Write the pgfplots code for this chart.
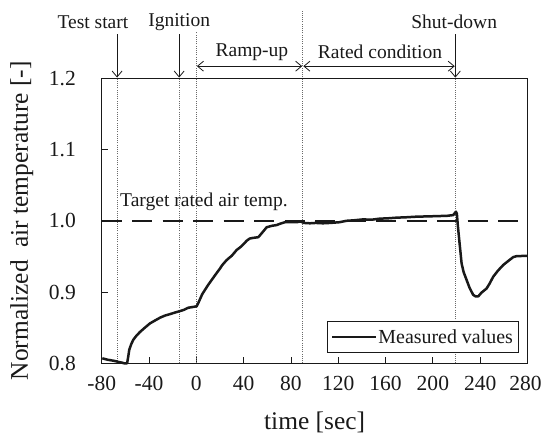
\documentclass[border=0pt]{standalone}
\usepackage{pgfplots}
\pgfplotsset{compat=1.18}
\usepackage{fontspec}
\setmainfont{Liberation Serif}
\usetikzlibrary{arrows.meta}
\definecolor{ink}{RGB}{25,25,25}
\definecolor{dotc}{RGB}{105,105,105}
\newcommand{\annfont}{\fontsize{19.6}{20}\selectfont}
\newcommand{\tickfont}{\fontsize{21.6}{22}\selectfont}
\newcommand{\labfont}{\fontsize{25.5}{26}\selectfont}
\begin{document}
\begin{tikzpicture}
\begin{axis}[
  at={(0,0)}, anchor=south west,
  scale only axis, width=425.8bp, height=285bp,
  xmin=-80, xmax=280, ymin=0.8, ymax=1.2,
  xtick={-80,-40,0,40,80,120,160,200,240,280},
  xticklabels={-80,-40,0,40,80,120,160,200,240,{\hspace*{-4bp}280}},
  ytick={0.8,0.9,1.0,1.1,1.2},
  yticklabels={0.8,0.9,1.0,1.1,1.2},
  tick align=inside, major tick length=6bp,
  xtick pos=bottom, ytick pos=left,
  axis line style={line width=1.3bp, ink},
  tick style={line width=0.8bp, ink},
  xticklabel style={font=\tickfont, inner sep=0pt, anchor=north, yshift=-12.5bp, text=ink},
  yticklabel style={font=\tickfont, inner sep=0pt, anchor=east, xshift=-25.7bp, text=ink},
  xlabel={time [sec]},
  ylabel={Normalized\ \ air temperature\ [-]},
  xlabel style={font=\labfont, at={(axis description cs:0.5,-0.208)}, anchor=center, text=ink},
  ylabel style={font=\labfont, at={(axis description cs:-0.188,0.5)}, anchor=center, text=ink},
  clip=false,
  legend style={at={(axis description cs:0.9784,0.0372)}, anchor=south east,
    draw=ink, line width=0.8bp, fill=white, font=\fontsize{20}{20}\selectfont, text=ink,
    inner xsep=4bp, inner ysep=6.7bp, nodes={inner sep=1bp}},
  legend image code/.code={\path (-5bp,0bp) -- (39bp,0bp); \draw[#1] (0bp,0bp) -- (39bp,0bp);},
]
% reference lines
\addplot[forget plot, dotc, line width=0.8bp, dash pattern=on 1bp off 1.2bp] coordinates {(-67,0.8) (-67,1.2)};
\addplot[forget plot, dotc, line width=0.8bp, dash pattern=on 1bp off 1.2bp] coordinates {(-14.5,0.8) (-14.5,1.2)};
\addplot[forget plot, dotc, line width=0.8bp, dash pattern=on 1bp off 1.2bp] coordinates {(0,0.8) (0,1.265)};
\addplot[forget plot, dotc, line width=0.8bp, dash pattern=on 1bp off 1.2bp] coordinates {(90,0.8) (90,1.295)};
\addplot[forget plot, dotc, line width=0.8bp, dash pattern=on 1bp off 1.2bp] coordinates {(219,0.8) (219,1.2)};
\addplot[forget plot, ink, line width=2.2bp, dash pattern=on 20bp off 10.5bp] coordinates {(-80,1.0) (280,1.0)};
% measured curve
\addplot[ink, line width=2.5bp, line join=round] coordinates {
(-79.5,0.807) (-75,0.805) (-70,0.8036) (-66,0.802) (-63,0.801) (-61,0.8) (-58.5,0.8)
(-57.5,0.81) (-56.7,0.819) (-55,0.827) (-53.3,0.833) (-50.5,0.839) (-47.6,0.844)
(-43.5,0.850) (-39.2,0.856) (-35,0.860) (-30.7,0.864) (-26.5,0.867) (-22.3,0.869)
(-18.5,0.871) (-14.4,0.873) (-10.5,0.875) (-6.8,0.878) (-3,0.879) (0.3,0.880)
(1.5,0.884) (3.1,0.890) (5,0.897) (7.3,0.903) (10,0.910) (13,0.917) (16,0.924)
(20,0.933) (22,0.938) (25.7,0.945) (30,0.951) (34.1,0.959) (38,0.964) (42.6,0.972)
(45,0.975) (48,0.976) (52.4,0.977) (55,0.982) (59.5,0.991) (64,0.993) (67.9,0.994)
(71,0.996) (74.9,0.998) (80,0.998) (84.8,0.998) (88,0.999) (91,0.997) (96,0.9965)
(101,0.997) (107,0.9965) (113,0.997) (121,0.998) (127,1.0) (134,1.0008) (141,1.002)
(148,1.0015) (155,1.003) (162,1.0035) (169.4,1.0044) (178,1.005) (186.3,1.0058)
(196,1.0062) (206,1.0067) (212,1.007) (217.2,1.008) (219.5,1.0128) (220.3,1.01)
(221,0.995) (222.3,0.973) (224.3,0.940) (226,0.928) (228.5,0.917) (231,0.906)
(234.1,0.896) (236,0.894) (238.4,0.894) (241,0.899) (245.4,0.905) (248,0.912)
(251,0.9215) (255,0.930) (259.5,0.938) (264,0.944) (267.9,0.949) (271,0.9505)
(275,0.9506) (280,0.9506)
};
\addlegendentry{Measured values}
% annotations
\draw[ink, line width=0.8bp, -{Straight Barb[length=6bp,width=10bp]}] (axis cs:-67,1.262) -- (axis cs:-67,1.201);
\draw[ink, line width=0.8bp, -{Straight Barb[length=6bp,width=10bp]}] (axis cs:-14.5,1.262) -- (axis cs:-14.5,1.201);
\draw[ink, line width=0.8bp, -{Straight Barb[length=6bp,width=10bp]}] (axis cs:219,1.262) -- (axis cs:219,1.201);
\draw[ink, line width=0.8bp, {Straight Barb[length=6bp,width=10bp]}-{Straight Barb[length=6bp,width=10bp]}] (axis cs:0.5,1.217) -- (axis cs:89.5,1.217);
\draw[ink, line width=0.8bp, {Straight Barb[length=6bp,width=10bp]}-{Straight Barb[length=6bp,width=10bp]}] (axis cs:90.5,1.217) -- (axis cs:218.5,1.217);
\node[font=\annfont, text=ink] at (axis cs:-87.4,1.279) {Test start};
\node[font=\annfont, text=ink] at (axis cs:-14.5,1.279) {Ignition};
\node[font=\annfont, text=ink] at (axis cs:218,1.279) {Shut-down};
\node[font=\annfont, text=ink] at (axis cs:47,1.237) {Ramp-up};
\node[font=\annfont, text=ink] at (axis cs:155.3,1.237) {Rated condition};
\node[font=\annfont, text=ink, anchor=west, inner sep=0pt] at (axis cs:-64.5,1.027) {Target rated air temp.};
\end{axis}
\pgfresetboundingbox
\useasboundingbox (-101.7bp,-70.7bp) rectangle (440.3bp,363.3bp);
\end{tikzpicture}
\end{document}
